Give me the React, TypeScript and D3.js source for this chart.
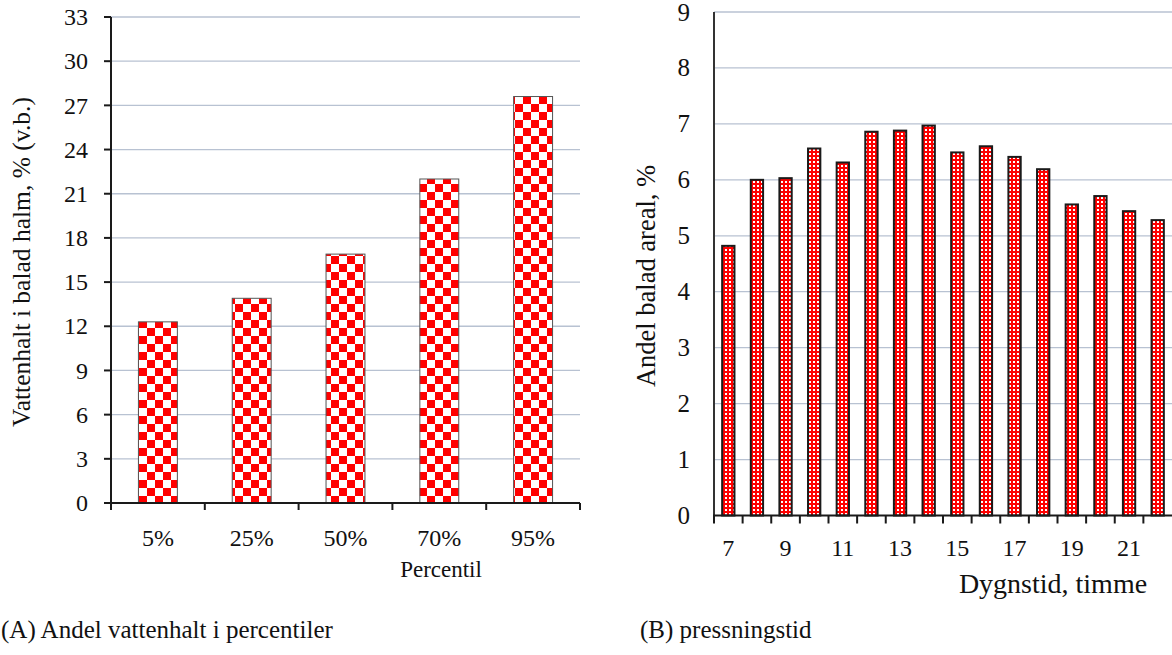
import React from "react";
import * as d3 from "d3";

// Panel A: moisture content per percentile
const percentiles = ["5%", "25%", "50%", "70%", "95%"];
const moisture = [12.3, 13.9, 16.9, 22.0, 27.6];
const moistureTicks = [0, 3, 6, 9, 12, 15, 18, 21, 24, 27, 30, 33];

// Panel B: share of baled area per hour of day
const hours = [7, 8, 9, 10, 11, 12, 13, 14, 15, 16, 17, 18, 19, 20, 21, 22];
const areaShare = [4.82, 6.0, 6.03, 6.56, 6.31, 6.86, 6.88, 6.97, 6.49, 6.6, 6.41, 6.19, 5.56, 5.71, 5.44, 5.28];
const areaTicks = [0, 1, 2, 3, 4, 5, 6, 7, 8, 9];
const labelledHours = [7, 9, 11, 13, 15, 17, 19, 21];

const FONT = "'Liberation Serif', 'Times New Roman', serif";
const GRID = "#b8c2d2";
const AXIS = "#1a1a1a";
const INK = "#111";

export default function App() {
  // ---- Panel A scales
  const xA = d3.scaleBand<string>().domain(percentiles).range([111, 580]).padding(0);
  const yA = d3.scaleLinear().domain([0, 33]).range([503, 17]);
  const barWA = xA.bandwidth() * 0.415;

  // ---- Panel B scales
  const xB = d3.scaleBand<number>().domain(hours).range([714, 1172]).padding(0);
  const yB = d3.scaleLinear().domain([0, 9]).range([515.5, 12]);
  const barWB = xB.bandwidth() * 0.43;

  return (
    <svg
      width={1172}
      height={655}
      style={{ position: "absolute", left: 0, top: 0, background: "#fff" }}
      fontFamily={FONT}
    >
      <defs>
        <pattern id="checker" width={16} height={16} patternUnits="userSpaceOnUse" x={139} y={0}>
          <rect width={16} height={16} fill="#fff" />
          <rect x={0} y={0} width={8} height={8} fill="#ff0000" />
          <rect x={8} y={8} width={8} height={8} fill="#ff0000" />
        </pattern>
        <pattern id="dotted" width={4} height={4} patternUnits="userSpaceOnUse">
          <rect width={4} height={4} fill="#ff0000" />
          <rect x={1} y={1} width={2} height={2} fill="#ffffff" />
        </pattern>
      </defs>

      {/* ================= Panel A ================= */}
      <g>
        {moistureTicks.map((t) => (
          <g key={t}>
            {t > 0 && (
              <line x1={111} x2={580} y1={yA(t)} y2={yA(t)} stroke={GRID} strokeWidth={1.3} />
            )}
            <line x1={104} x2={111} y1={yA(t)} y2={yA(t)} stroke={AXIS} strokeWidth={2} />
            <text x={88} y={yA(t)} dy="0.34em" textAnchor="end" fontSize={24} fill={INK}>
              {t}
            </text>
          </g>
        ))}

        {percentiles.map((p, i) => {
          const cx = (xA(p) as number) + xA.bandwidth() / 2;
          return (
            <rect
              key={p}
              x={cx - barWA / 2}
              y={yA(moisture[i])}
              width={barWA}
              height={yA(0) - yA(moisture[i])}
              fill="url(#checker)"
              stroke="#555"
              strokeWidth={1}
            />
          );
        })}

        {/* axes */}
        <line x1={111} x2={111} y1={yA(33)} y2={yA(0)} stroke={AXIS} strokeWidth={2} />
        <line x1={104} x2={580} y1={yA(0)} y2={yA(0)} stroke={AXIS} strokeWidth={2} />
        {[...percentiles.map((p) => xA(p) as number), 580].map((x, i) => (
          <line key={i} x1={x} x2={x} y1={yA(0)} y2={yA(0) + 7} stroke={AXIS} strokeWidth={2} />
        ))}

        {percentiles.map((p) => (
          <text
            key={p}
            x={(xA(p) as number) + xA.bandwidth() / 2}
            y={546}
            textAnchor="middle"
            fontSize={24}
            fill={INK}
          >
            {p}
          </text>
        ))}

        <text x={441} y={577} textAnchor="middle" fontSize={23} fill={INK}>
          Percentil
        </text>
        <text
          transform="translate(30,262) rotate(-90)"
          textAnchor="middle"
          fontSize={25.5}
          fill={INK}
        >
          Vattenhalt i balad halm, % (v.b.)
        </text>

        <text x={1} y={638} fontSize={25} fill={INK}>
          (A) Andel vattenhalt i percentiler
        </text>
      </g>

      {/* ================= Panel B ================= */}
      <g>
        {areaTicks.map((t) => (
          <g key={t}>
            {t > 0 && (
              <line x1={714} x2={1172} y1={yB(t)} y2={yB(t)} stroke={GRID} strokeWidth={1.3} />
            )}
            <text x={690} y={yB(t)} dy="0.34em" textAnchor="end" fontSize={25} fill={INK}>
              {t}
            </text>
          </g>
        ))}

        {hours.map((h, i) => {
          const cx = (xB(h) as number) + xB.bandwidth() / 2;
          return (
            <rect
              key={h}
              x={cx - barWB / 2}
              y={yB(areaShare[i])}
              width={barWB}
              height={yB(0) - yB(areaShare[i])}
              fill="url(#dotted)"
              stroke="#1a1a1a"
              strokeWidth={2}
            />
          );
        })}

        <line x1={714} x2={714} y1={yB(9)} y2={yB(0)} stroke="#333" strokeWidth={2} />
        <line x1={713} x2={1172} y1={yB(0)} y2={yB(0)} stroke={AXIS} strokeWidth={2} />
        {hours.map((h) => (
          <line
            key={h}
            x1={xB(h) as number}
            x2={xB(h) as number}
            y1={yB(0)}
            y2={yB(0) + 8}
            stroke={AXIS}
            strokeWidth={2}
          />
        ))}

        {labelledHours.map((h) => (
          <text
            key={h}
            x={(xB(h) as number) + xB.bandwidth() / 2}
            y={556}
            textAnchor="middle"
            fontSize={24}
            fill={INK}
          >
            {h}
          </text>
        ))}

        <text x={1053} y={593} textAnchor="middle" fontSize={28} fill={INK}>
          Dygnstid, timme
        </text>
        <text
          transform="translate(655,276) rotate(-90)"
          textAnchor="middle"
          fontSize={26.5}
          fill={INK}
        >
          Andel balad areal, %
        </text>

        <text x={640} y={638} fontSize={25} fill={INK}>
          (B) pressningstid
        </text>
      </g>
    </svg>
  );
}
